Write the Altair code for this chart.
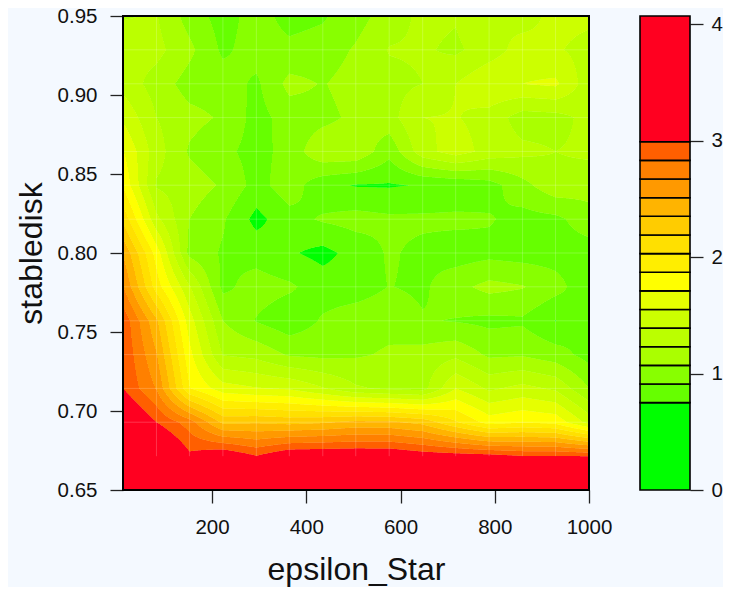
import altair as alt
import numpy as np
import pandas as pd

x_grid = [11, 82, 152, 223, 294, 364, 435, 505, 576, 647, 717, 788, 859, 929, 1000]
y_grid = [0.65, 0.6714, 0.6929, 0.7143, 0.7357, 0.7571, 0.7786, 0.80, 0.8214, 0.8429,
          0.8643, 0.8857, 0.9071, 0.9286, 0.95]
levels = [0, 0.75, 0.91, 1.07, 1.23, 1.39, 1.55, 1.71, 1.87, 2.03, 2.19, 2.35, 2.51, 2.67, 2.83, 2.99, 4.07]
colors = ["#00ff00", "#66ff00", "#88ff00", "#aaff00", "#bbff00", "#ccff00", "#e6ff00", "#ffff00",
          "#ffee00", "#ffe000", "#ffcc00", "#ffb400", "#ff9900", "#ff8000", "#ff5f00", "#ff0020"]

z_0 = [4.07, 3.95, 3.9, 3.9, 3.85, 3.9, 3.9, 3.9, 3.9, 3.85, 3.85, 3.8, 3.8, 3.8, 3.8]
z_1 = [3.7, 3.4, 3.03, 3.16, 3.0, 3.16, 3.17, 3.17, 3.17, 3.1, 3.08, 3.06, 3.0, 3.0, 2.99]
z_2 = [3.3, 2.99, 2.75, 2.31, 2.33, 2.30, 2.33, 2.39, 2.38, 2.30, 2.05, 1.80, 1.86, 1.82, 1.49]
z_3 = [2.99, 2.66, 1.88, 1.62, 1.56, 1.53, 1.40, 1.25, 1.2, 1.17, 1.55, 1.36, 1.44, 1.36, 1.07]
z_4 = [2.97, 2.52, 1.76, 1.22, 1.18, 1.05, 1.03, 1.05, 1.09, 1.13, 1.19, 1.04, 1.05, 0.98, 0.85]
z_5 = [2.95, 2.38, 1.63, 1.07, 0.90, 0.80, 0.93, 1.0, 1.02, 0.925, 0.90, 0.87, 0.885, 0.745, 0.91]
z_6 = [2.68, 1.95, 1.41, 0.87, 0.98, 0.936, 0.83, 0.83, 0.915, 0.88, 1.02, 1.12, 1.08, 0.97, 0.80]
z_7 = [2.5, 1.8, 1.02, 0.89, 0.85, 0.77, 0.70, 0.81, 0.93, 0.87, 0.83, 0.86, 0.84, 0.84, 0.83]
z_8 = [2.15, 1.43, 1.07, 0.93, 0.70, 0.85, 0.93, 0.97, 0.94, 0.94, 0.947, 0.925, 0.85, 0.87, 1.0]
z_9 = [1.85, 1.21, 1.15, 1.05, 0.85, 1.0, 0.80, 0.739, 0.735, 0.76, 0.78, 0.84, 1.02, 1.18, 1.14]
z_10 = [1.72, 1.30, 1.05, 0.95, 0.85, 0.97, 1.2, 1.2, 0.96, 1.33, 1.47, 1.33, 1.27, 1.23, 1.26]
z_11 = [1.52, 1.23, 1.12, 1.05, 0.85, 0.98, 1.02, 1.11, 1.17, 1.39, 1.40, 1.33, 1.15, 1.17, 1.28]
z_12 = [1.33, 1.16, 1.0, 0.99, 0.88, 1.12, 1.06, 1.14, 1.18, 1.23, 1.39, 1.53, 1.55, 1.58, 1.30]
z_13 = [1.30, 1.28, 1.11, 0.88, 0.98, 0.95, 0.98, 1.09, 1.24, 1.25, 1.20, 1.31, 1.46, 1.41, 1.33]
z_14 = [1.22, 1.24, 1.0, 0.84, 0.98, 0.85, 0.89, 1.0, 1.15, 1.27, 1.245, 1.39, 1.32, 1.44, 1.43]
z_rows = [z_0, z_1, z_2, z_3, z_4, z_5, z_6, z_7, z_8, z_9, z_10, z_11, z_12, z_13, z_14]

x_ticks = [200, 400, 600, 800, 1000]
y_ticks = [0.65, 0.70, 0.75, 0.80, 0.85, 0.90, 0.95]
bar_ticks = [0, 1, 2, 3, 4]

W, H = 466, 474
FONT = "Liberation Sans"
FS = 20.5
TS = 32


def bands_for_column(x):
    """Cut one column of the read grid at the contour levels."""
    col = np.array([np.interp(x, x_grid, r) for r in z_rows])
    ys = list(y_grid)
    for a, b, ya, yb in zip(col[:-1], col[1:], y_grid[:-1], y_grid[1:]):
        for lv in levels[1:-1]:
            if (a - lv) * (b - lv) < 0:
                ys.append(ya + (lv - a) / (b - a) * (yb - ya))
    ys = sorted(ys)
    out = []
    for y0, y1 in zip(ys[:-1], ys[1:]):
        zm = np.interp((y0 + y1) / 2, y_grid, col)
        k = int(np.clip(np.searchsorted(levels, zm) - 1, 0, len(colors) - 1))
        if out and out[-1][2] == k:
            out[-1][1] = y1
        else:
            out.append([y0, y1, k])
    return out


x_edges = np.linspace(x_grid[0], x_grid[-1], W + 1)
step = x_edges[1] - x_edges[0]
recs = []
for i, (x0, x1) in enumerate(zip(x_edges[:-1], x_edges[1:])):
    for y0, y1, k in bands_for_column((x0 + x1) / 2):
        recs.append(dict(i=i, x=x0, x2=min(x1 + 0.6 * step, x_grid[-1]), y=y0, y2=y1, band=k))
df = pd.DataFrame(recs)

xs = alt.Scale(domain=[x_grid[0], x_grid[-1]], nice=False, zero=False)
ys_ = alt.Scale(domain=[y_grid[0], y_grid[-1]], nice=False, zero=False)
cs = alt.Scale(domain=list(range(len(colors))), range=colors)

fill = alt.Chart(df).mark_rect(strokeWidth=0, clip=True).encode(
    x=alt.X("x:Q", scale=xs, axis=alt.Axis(
        values=x_ticks, format="d", title="epsilon_Star", grid=False, domain=False, tickSize=13, tickWidth=1.3,
        tickColor="#222222", labelFont=FONT, labelFontSize=FS, labelColor="#111111", labelPadding=14,
        titleFont=FONT, titleFontSize=TS, titleFontWeight="normal", titleColor="#111111", titlePadding=17,
        labelFlush=False, labelOverlap=False)),
    x2="x2:Q",
    y=alt.Y("y:Q", scale=ys_, axis=alt.Axis(
        values=y_ticks, format=".2f", title="stabledisk", grid=False, domain=False, tickSize=13, tickWidth=1.3,
        tickColor="#222222", labelFont=FONT, labelFontSize=FS, labelColor="#111111", labelPadding=13,
        titleFont=FONT, titleFontSize=TS, titleFontWeight="normal", titleColor="#111111", titlePadding=9,
        labelFlush=False, labelOverlap=False)),
    y2="y2:Q",
    color=alt.Color("band:O", scale=cs, legend=None),
    order="i:Q",
)

vgrid = alt.Chart(pd.DataFrame({"x": x_grid[1:-1]})).mark_rule(color="white", opacity=0.2, strokeWidth=1).encode(
    x=alt.X("x:Q", scale=xs),
    y=alt.datum(y_grid[1], scale=ys_, axis=None), y2=alt.datum(y_grid[-1]))
hgrid = alt.Chart(pd.DataFrame({"y": y_grid[2:-1]})).mark_rule(color="white", opacity=0.2, strokeWidth=1).encode(
    y=alt.Y("y:Q", scale=ys_, axis=None),
    x=alt.datum(x_grid[0], scale=xs), x2=alt.datum(x_grid[-1]))
frame = alt.Chart(pd.DataFrame({"a": [0]})).mark_rect(filled=False, stroke="#000000", strokeWidth=2).encode(
    x=alt.value(0), x2=alt.value(W), y=alt.value(0), y2=alt.value(H))

bar_df = pd.DataFrame({"lo": levels[:-1], "hi": levels[1:], "band": list(range(len(colors)))})
bar = alt.Chart(bar_df).mark_rect(stroke="#000000", strokeWidth=1.6).encode(
    x=alt.value(W + 51), x2=alt.value(W + 101),
    y=alt.Y("lo:Q", scale=alt.Scale(domain=[0, 4.07], nice=False, zero=False), axis=alt.Axis(
        orient="right", offset=101, values=bar_ticks, format="d", title=None, grid=False, domain=False, tickSize=13,
        tickWidth=1.3, tickColor="#222222", labelFont=FONT, labelFontSize=FS, labelColor="#111111",
        labelPadding=8, labelFlush=False, labelOverlap=False)),
    y2="hi:Q",
    color=alt.Color("band:O", scale=cs, legend=None),
)

chart = alt.layer(fill, vgrid, hgrid, frame, bar).resolve_scale(y="independent").properties(
    width=W, height=H,
    background="#f4f9ff",
    autosize=alt.AutoSizeParams(type="none"),
    padding={"left": 115, "top": 8, "right": 134, "bottom": 97},
).configure_view(stroke=None)

chart.save("out.html", embed_options={"renderer": "svg", "actions": False})
